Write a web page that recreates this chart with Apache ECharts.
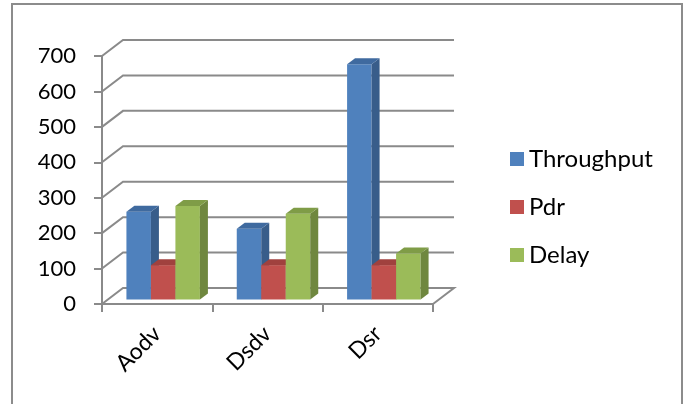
<!DOCTYPE html>
<html><head><meta charset="utf-8">
<script src="https://cdn.jsdelivr.net/npm/echarts@6/dist/echarts.min.js"></script>
<style>html,body{margin:0;padding:0;background:#fff}#c{width:688px;height:404px}</style>
</head><body><div id="c"></div>
<script>
const categories = ['Aodv', 'Dsdv', 'Dsr'];
const throughput = [248, 200, 664];
const pdr = [97, 97, 97];
const delay = [264, 242, 130];
const yTicks = [0, 100, 200, 300, 400, 500, 600, 700];
const seriesNames = ['Throughput', 'Pdr', 'Delay'];

const palette = [
  { front: '#4F81BD', side: '#385D8A', top: '#3F6A9F' },
  { front: '#C0504D', side: '#8C3836', top: '#A0413E' },
  { front: '#9BBB59', side: '#6F873F', top: '#7F9C47' }
];
const GRID_COLOR = '#8A8A8A';
const WALL_DX = 21, WALL_DY = -16;
const BAR_OFF_X = 6, BAR_OFF_Y = -4.5;
const BAR_DX = 8, BAR_DY = -6;
const BAR_FRAC = 0.222;

function wallRender(params, api) {
  const v = api.value(1);
  const cs = params.coordSys;
  const y = api.coord([0, v])[1];
  const x0 = cs.x, x1 = cs.x + cs.width;
  const pts = [[x0, y], [x0 + WALL_DX, y + WALL_DY], [x1 + WALL_DX, y + WALL_DY]];
  if (v === 0) pts.push([x1, y]);
  return {
    type: 'polyline',
    shape: { points: pts },
    style: { stroke: GRID_COLOR, lineWidth: 2, fill: null }
  };
}

function barRender(si) {
  return function (params, api) {
    const cat = api.value(0), val = api.value(1);
    const base = api.coord([cat, 0]);
    const topPt = api.coord([cat, val]);
    const catW = api.size([1, 0])[0];
    const bw = catW * BAR_FRAC;
    const left = base[0] - 1.5 * bw + si * bw + BAR_OFF_X;
    const right = left + bw;
    const yb = base[1] + BAR_OFF_Y, yt = topPt[1] + BAR_OFF_Y;
    const c = palette[si];
    return {
      type: 'group',
      children: [
        { type: 'polygon', shape: { points: [[left, yb], [right, yb], [right, yt], [left, yt]] }, style: { fill: c.front } },
        { type: 'polygon', shape: { points: [[right, yb], [right + BAR_DX, yb + BAR_DY], [right + BAR_DX, yt + BAR_DY], [right, yt]] }, style: { fill: c.side } },
        { type: 'polygon', shape: { points: [[left, yt], [right, yt], [right + BAR_DX, yt + BAR_DY], [left + BAR_DX, yt + BAR_DY]] }, style: { fill: c.top } }
      ]
    };
  };
}

const values = [throughput, pdr, delay];
const chart = echarts.init(document.getElementById('c'), null, { renderer: 'canvas' });
const FONT = 'Lato';

const series = [{
  type: 'custom',
  name: '_walls',
  renderItem: wallRender,
  data: yTicks.map(v => [0, v]),
  encode: { x: 0, y: 1 },
  silent: true,
  z: 1
}];
seriesNames.forEach((n, i) => {
  series.push({
    type: 'custom',
    name: n,
    renderItem: barRender(i),
    itemStyle: { color: palette[i].front },
    data: categories.map((c, k) => [k, values[i][k]]),
    encode: { x: 0, y: 1 },
    z: 2 + i
  });
});

chart.setOption({
  animation: false,
  backgroundColor: '#fff',
  graphic: [{
    type: 'rect',
    shape: { x: 12, y: 4, width: 670, height: 420 },
    style: { fill: null, stroke: '#8C8C8C', lineWidth: 2 },
    silent: true
  }],
  grid: { left: 102, right: 255, top: 56, bottom: 100, containLabel: false },
  legend: {
    data: seriesNames,
    orient: 'vertical',
    left: 505,
    top: 142,
    icon: 'rect',
    itemWidth: 14,
    itemHeight: 14,
    itemGap: 24,
    textStyle: { fontFamily: FONT, fontSize: 24, color: '#000' }
  },
  xAxis: {
    type: 'category',
    data: categories,
    boundaryGap: true,
    axisLine: { show: true, lineStyle: { color: GRID_COLOR, width: 2 } },
    axisTick: { show: true, length: 8, alignWithLabel: false, lineStyle: { color: GRID_COLOR, width: 2 } },
    axisLabel: { rotate: 45, margin: 26, fontFamily: FONT, fontSize: 23, color: '#000', interval: 0 },
    splitLine: { show: false }
  },
  yAxis: {
    type: 'value',
    min: 0,
    max: 700,
    interval: 100,
    axisLine: { show: true, lineStyle: { color: GRID_COLOR, width: 2 } },
    axisTick: { show: true, length: 8, lineStyle: { color: GRID_COLOR, width: 2 } },
    axisLabel: { margin: 26, fontFamily: FONT, fontSize: 22, color: '#000' },
    splitLine: { show: false }
  },
  series: series
});
</script></body></html>
